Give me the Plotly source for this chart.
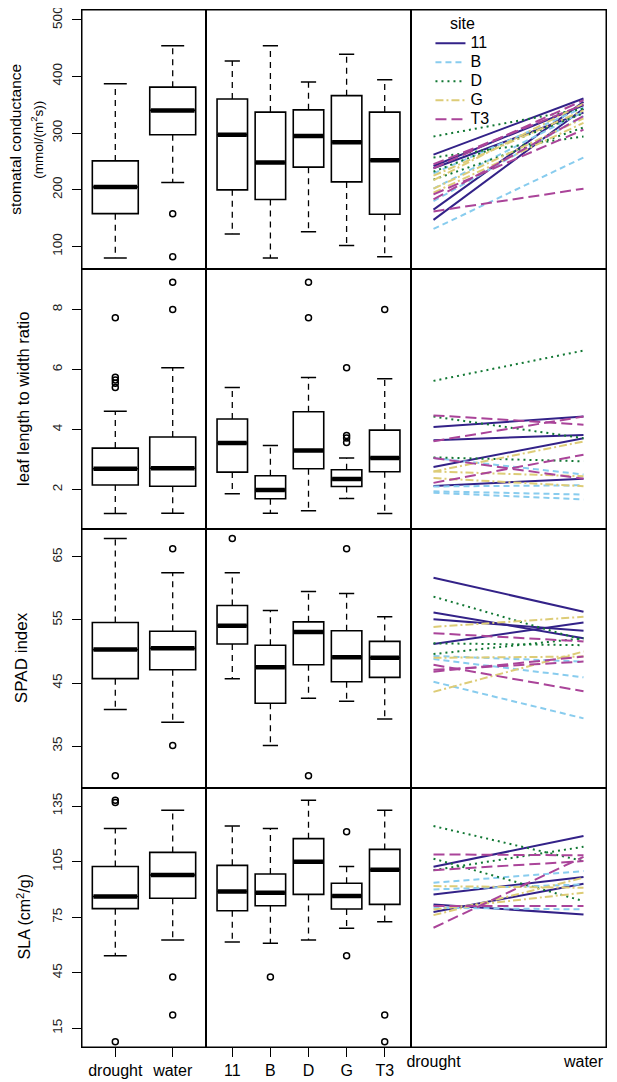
import plotly.graph_objects as go
from plotly.subplots import make_subplots

treatments = ["drought", "water"]
sites = ["11", "B", "D", "G", "T3"]

# five number summaries per box: lower whisker, q1, median, q3, upper whisker
gs_treat = [[80, 158, 205, 251, 387], [213, 297, 340, 381, 454]]
gs_treat_out = [[], [158, 82]]
gs_site = [[122, 200, 297, 360, 427], [80, 183, 248, 337, 454], [126, 240, 295, 341, 390],
           [102, 214, 284, 366, 439], [82, 157, 252, 337, 394]]
gs_site_out = [[], [], [], [], []]

lwr_treat = [[1.20, 2.15, 2.69, 3.38, 4.61], [1.21, 2.11, 2.71, 3.75, 6.06]]
lwr_treat_out = [[7.72, 5.74, 5.65, 5.54, 5.40], [8.91, 8.0]]
lwr_site = [[1.86, 2.58, 3.55, 4.35, 5.40], [1.21, 1.69, 1.98, 2.46, 3.47], [1.29, 2.69, 3.30, 4.59, 5.73],
            [1.70, 2.10, 2.35, 2.66, 3.05], [1.20, 2.59, 3.05, 3.98, 5.69]]
lwr_site_out = [[], [], [8.91, 7.72], [6.06, 3.80, 3.72, 3.57], [8.0]]

spad_treat = [[40.8, 45.7, 50.3, 54.6, 67.9], [38.8, 47.1, 50.5, 53.2, 62.5]]
spad_treat_out = [[30.3], [66.3, 35.1]]
spad_site = [[45.7, 51.2, 54.1, 57.3, 62.5], [35.1, 41.8, 47.5, 51.0, 56.5], [42.6, 47.9, 53.1, 54.7, 59.5],
             [42.1, 45.2, 49.1, 53.3, 59.2], [39.3, 45.9, 49.0, 51.6, 55.5]]
spad_site_out = [[67.9], [], [30.3], [66.3], []]

sla_treat = [[54.2, 79.6, 86.2, 102.4, 122.9], [62.7, 85.2, 97.8, 110.0, 132.8]]
sla_treat_out = [[138.1, 137.0, 7.8], [42.7, 22.2]]
sla_site = [[61.6, 78.5, 88.9, 103.0, 124.2], [60.9, 81.2, 88.2, 98.3, 122.9], [62.7, 87.3, 105.0, 117.4, 138.1],
            [69.0, 79.4, 86.4, 93.3, 102.4], [72.6, 81.9, 100.6, 111.6, 132.7]]
sla_site_out = [[], [42.7], [], [121.1, 54.2], [22.2, 7.8]]

# reaction norms (drought -> water) per genotype
gs_norm_site = ["11", "11", "11", "11", "11", "B", "B", "B", "B", "D", "D", "D", "D",
                "G", "G", "G", "G", "T3", "T3", "T3", "T3", "T3"]
gs_norm_drought = [262, 242, 238, 147, 165, 131, 229, 202, 180, 294, 257, 218, 232,
                   217, 202, 225, 195, 162, 238, 192, 183, 245]
gs_norm_water = [361, 349, 336, 343, 355, 257, 345, 338, 330, 343, 294, 310, 335,
                 352, 326, 340, 318, 202, 358, 306, 330, 350]

lwr_norm_site = ["11", "11", "11", "11", "B", "B", "B", "B", "D", "D", "D",
                 "G", "G", "G", "T3", "T3", "T3", "T3"]
lwr_norm_drought = [4.08, 3.64, 2.75, 2.12, 3.05, 1.89, 1.94, 2.10, 5.62, 4.43, 3.07,
                    2.60, 2.38, 2.60, 4.47, 3.61, 3.05, 2.22]
lwr_norm_water = [4.43, 3.82, 3.71, 2.36, 2.50, 1.67, 1.83, 2.14, 6.63, 3.71, 2.94,
                  3.60, 2.11, 2.44, 4.16, 4.43, 2.36, 3.16]

spad_norm_site = ["11", "11", "11", "11", "B", "B", "B", "D", "D", "D",
                  "G", "G", "G", "T3", "T3", "T3", "T3"]
spad_norm_drought = [61.7, 56.2, 55.1, 51.2, 49.3, 45.2, 48.8, 58.7, 51.3, 49.6,
                     53.9, 43.6, 49.0, 52.9, 47.9, 47.1, 46.8]
spad_norm_water = [56.3, 52.1, 53.3, 54.6, 48.4, 39.4, 45.9, 51.8, 51.0, 52.1,
                   55.5, 50.0, 49.2, 51.6, 43.7, 48.4, 49.2]

sla_norm_site = ["11", "11", "11", "11", "B", "B", "B", "D", "D", "D",
                 "G", "G", "G", "T3", "T3", "T3", "T3"]
sla_norm_drought = [102.2, 87.3, 77.8, 81.9, 93.6, 90.0, 80.1, 124.2, 100.4, 106.6,
                    91.8, 76.1, 79.2, 108.9, 100.4, 69.3, 81.0]
sla_norm_water = [118.8, 96.7, 93.1, 76.5, 99.9, 92.7, 79.2, 105.3, 113.0, 83.7,
                  90.9, 96.3, 88.2, 108.4, 105.3, 107.6, 81.0]

site_colors = {"11": "#332288", "B": "#88CCEE", "D": "#117733", "G": "#DDCC77", "T3": "#AA4499"}
site_dash = {"11": "solid", "B": "6px,4px", "D": "2px,4px", "G": "8px,3px,2px,3px", "T3": "11px,5px"}

rows = [
    (gs_treat, gs_treat_out, gs_site, gs_site_out, gs_norm_site, gs_norm_drought, gs_norm_water),
    (lwr_treat, lwr_treat_out, lwr_site, lwr_site_out, lwr_norm_site, lwr_norm_drought, lwr_norm_water),
    (spad_treat, spad_treat_out, spad_site, spad_site_out, spad_norm_site, spad_norm_drought, spad_norm_water),
    (sla_treat, sla_treat_out, sla_site, sla_site_out, sla_norm_site, sla_norm_drought, sla_norm_water),
]
y_ranges = [[60, 517], [0.7, 9.34], [28.4, 69.5], [4.9, 144.9]]
y_ticks = [[100, 200, 300, 400, 500], [2, 4, 6, 8], [35, 45, 55, 65], [15, 45, 75, 105, 135]]

fig = make_subplots(rows=4, cols=3, column_widths=[124, 205, 195],
                    horizontal_spacing=0, vertical_spacing=0)

BOXW = 0.8


def add_boxes(stats, outliers, row, col):
    pos = list(range(1, len(stats) + 1))
    # dashed whiskers
    wx, wy = [], []
    for p, s in zip(pos, stats):
        wx += [p, p, None, p, p, None]
        wy += [s[1], s[0], None, s[3], s[4], None]
    fig.add_trace(go.Scatter(x=wx, y=wy, mode="lines", line=dict(color="black", width=1.3, dash="6px,5px"),
                             showlegend=False, hoverinfo="skip"), row=row, col=col)
    # staples
    sx, sy = [], []
    for p, s in zip(pos, stats):
        sx += [p - BOXW / 4, p + BOXW / 4, None, p - BOXW / 4, p + BOXW / 4, None]
        sy += [s[0], s[0], None, s[4], s[4], None]
    fig.add_trace(go.Scatter(x=sx, y=sy, mode="lines", line=dict(color="black", width=1.5),
                             showlegend=False, hoverinfo="skip"), row=row, col=col)
    fig.add_trace(go.Box(
        x=pos, q1=[s[1] for s in stats], median=[s[2] for s in stats], q3=[s[3] for s in stats],
        lowerfence=[s[1] for s in stats], upperfence=[s[3] for s in stats],
        width=BOXW, whiskerwidth=0, fillcolor="white", line=dict(color="black", width=1.6),
        boxpoints=False, showlegend=False, hoverinfo="skip", orientation="v"), row=row, col=col)
    # thick medians
    mx, my = [], []
    for p, s in zip(pos, stats):
        mx += [p - BOXW / 2 + 0.02, p + BOXW / 2 - 0.02, None]
        my += [s[2], s[2], None]
    fig.add_trace(go.Scatter(x=mx, y=my, mode="lines", line=dict(color="black", width=4.5),
                             showlegend=False, hoverinfo="skip"), row=row, col=col)
    ox, oy = [], []
    for p, outs in zip(pos, outliers):
        ox += [p] * len(outs)
        oy += outs
    if ox:
        fig.add_trace(go.Scatter(x=ox, y=oy, mode="markers",
                                 marker=dict(symbol="circle-open", size=6, color="black", line=dict(width=1.5)),
                                 showlegend=False, hoverinfo="skip"), row=row, col=col)


shown = set()
for r, (treat, treat_out, site, site_out, nsite, ndry, nwet) in enumerate(rows, start=1):
    add_boxes(treat, treat_out, r, 1)
    add_boxes(site, site_out, r, 2)
    for s in sites:
        for k in range(len(nsite)):
            if nsite[k] != s:
                continue
            fig.add_trace(go.Scatter(
                x=[1, 2], y=[ndry[k], nwet[k]], mode="lines", legendgroup=s,
                name="<span style='font-size:16px'>%s</span>" % s,
                line=dict(color=site_colors[s], width=2, dash=site_dash[s]),
                showlegend=(r == 1 and s not in shown), hoverinfo="skip"), row=r, col=3)
            if r == 1:
                shown.add(s)

x_ranges = [[0.42, 2.58], [0.31, 5.69], [0.85, 2.15]]
x_vals = [[1, 2], [1, 2, 3, 4, 5], [1, 2]]
x_text = [treatments, sites, treatments]

for r in range(1, 5):
    for c in range(1, 4):
        fig.update_xaxes(
            range=x_ranges[c - 1], tickvals=x_vals[c - 1], ticktext=x_text[c - 1],
            showline=True, mirror=True, linecolor="black", linewidth=1,
            showgrid=False, zeroline=False,
            ticks="outside" if (r == 4 and c < 3) else "", ticklen=9, tickwidth=1.3, tickcolor="black",
            showticklabels=(r == 4), tickfont=dict(size=16, color="black"),
            ticklabeloverflow="allow",
            row=r, col=c)
        fig.update_yaxes(
            range=y_ranges[r - 1], tickvals=y_ticks[r - 1],
            showline=True, mirror=True, linecolor="black", linewidth=1,
            showgrid=False, zeroline=False,
            ticks="outside" if c == 1 else "", ticklen=9, tickwidth=1.3, tickcolor="black",
            showticklabels=(c == 1), tickangle=-90, tickfont=dict(size=13.5, color="#222"),
            ticklabelstandoff=5, ticklabeloverflow="allow",
            row=r, col=c)

# y axis titles
titles = [
    ("stomatal conductance", 15.5, 16, 1),
    ("(mmol/(m<sup>2</sup>s))", 13.5, 37, 1),
    ("leaf length to width ratio", 16.5, 23, 2),
    ("SPAD index", 17, 21, 3),
    ("SLA (cm<sup>2</sup>/g)", 16, 24, 4),
]
for text, size, px, r in titles:
    yref = "y domain" if r == 1 else "y%d domain" % ((r - 1) * 3 + 1)
    fig.add_annotation(text=text, textangle=-90, font=dict(size=size, color="black"),
                       xref="paper", x=(px - 82) / 524, xanchor="center",
                       yref=yref, y=0.5, yanchor="middle", showarrow=False)

# outer frame
fig.add_shape(type="rect", xref="paper", yref="paper", x0=0, x1=1, y0=0, y1=1,
              line=dict(color="black", width=1))

# the page body adds 8px around the figure, so the figure is 8px smaller
fig.update_layout(
    width=609, height=1074,
    margin=dict(l=74, r=11, t=2, b=35, autoexpand=False),
    plot_bgcolor="white", paper_bgcolor="white",
    font=dict(family="Liberation Sans, Arial, sans-serif", color="black"),
    legend=dict(x=0.665, y=1.002, xanchor="left", yanchor="top",
                title=dict(text="site", side="top center", font=dict(size=16)),
                font=dict(size=12), bgcolor="rgba(0,0,0,0)", tracegroupgap=0, itemwidth=30),
)

fig.write_html("out.html")
